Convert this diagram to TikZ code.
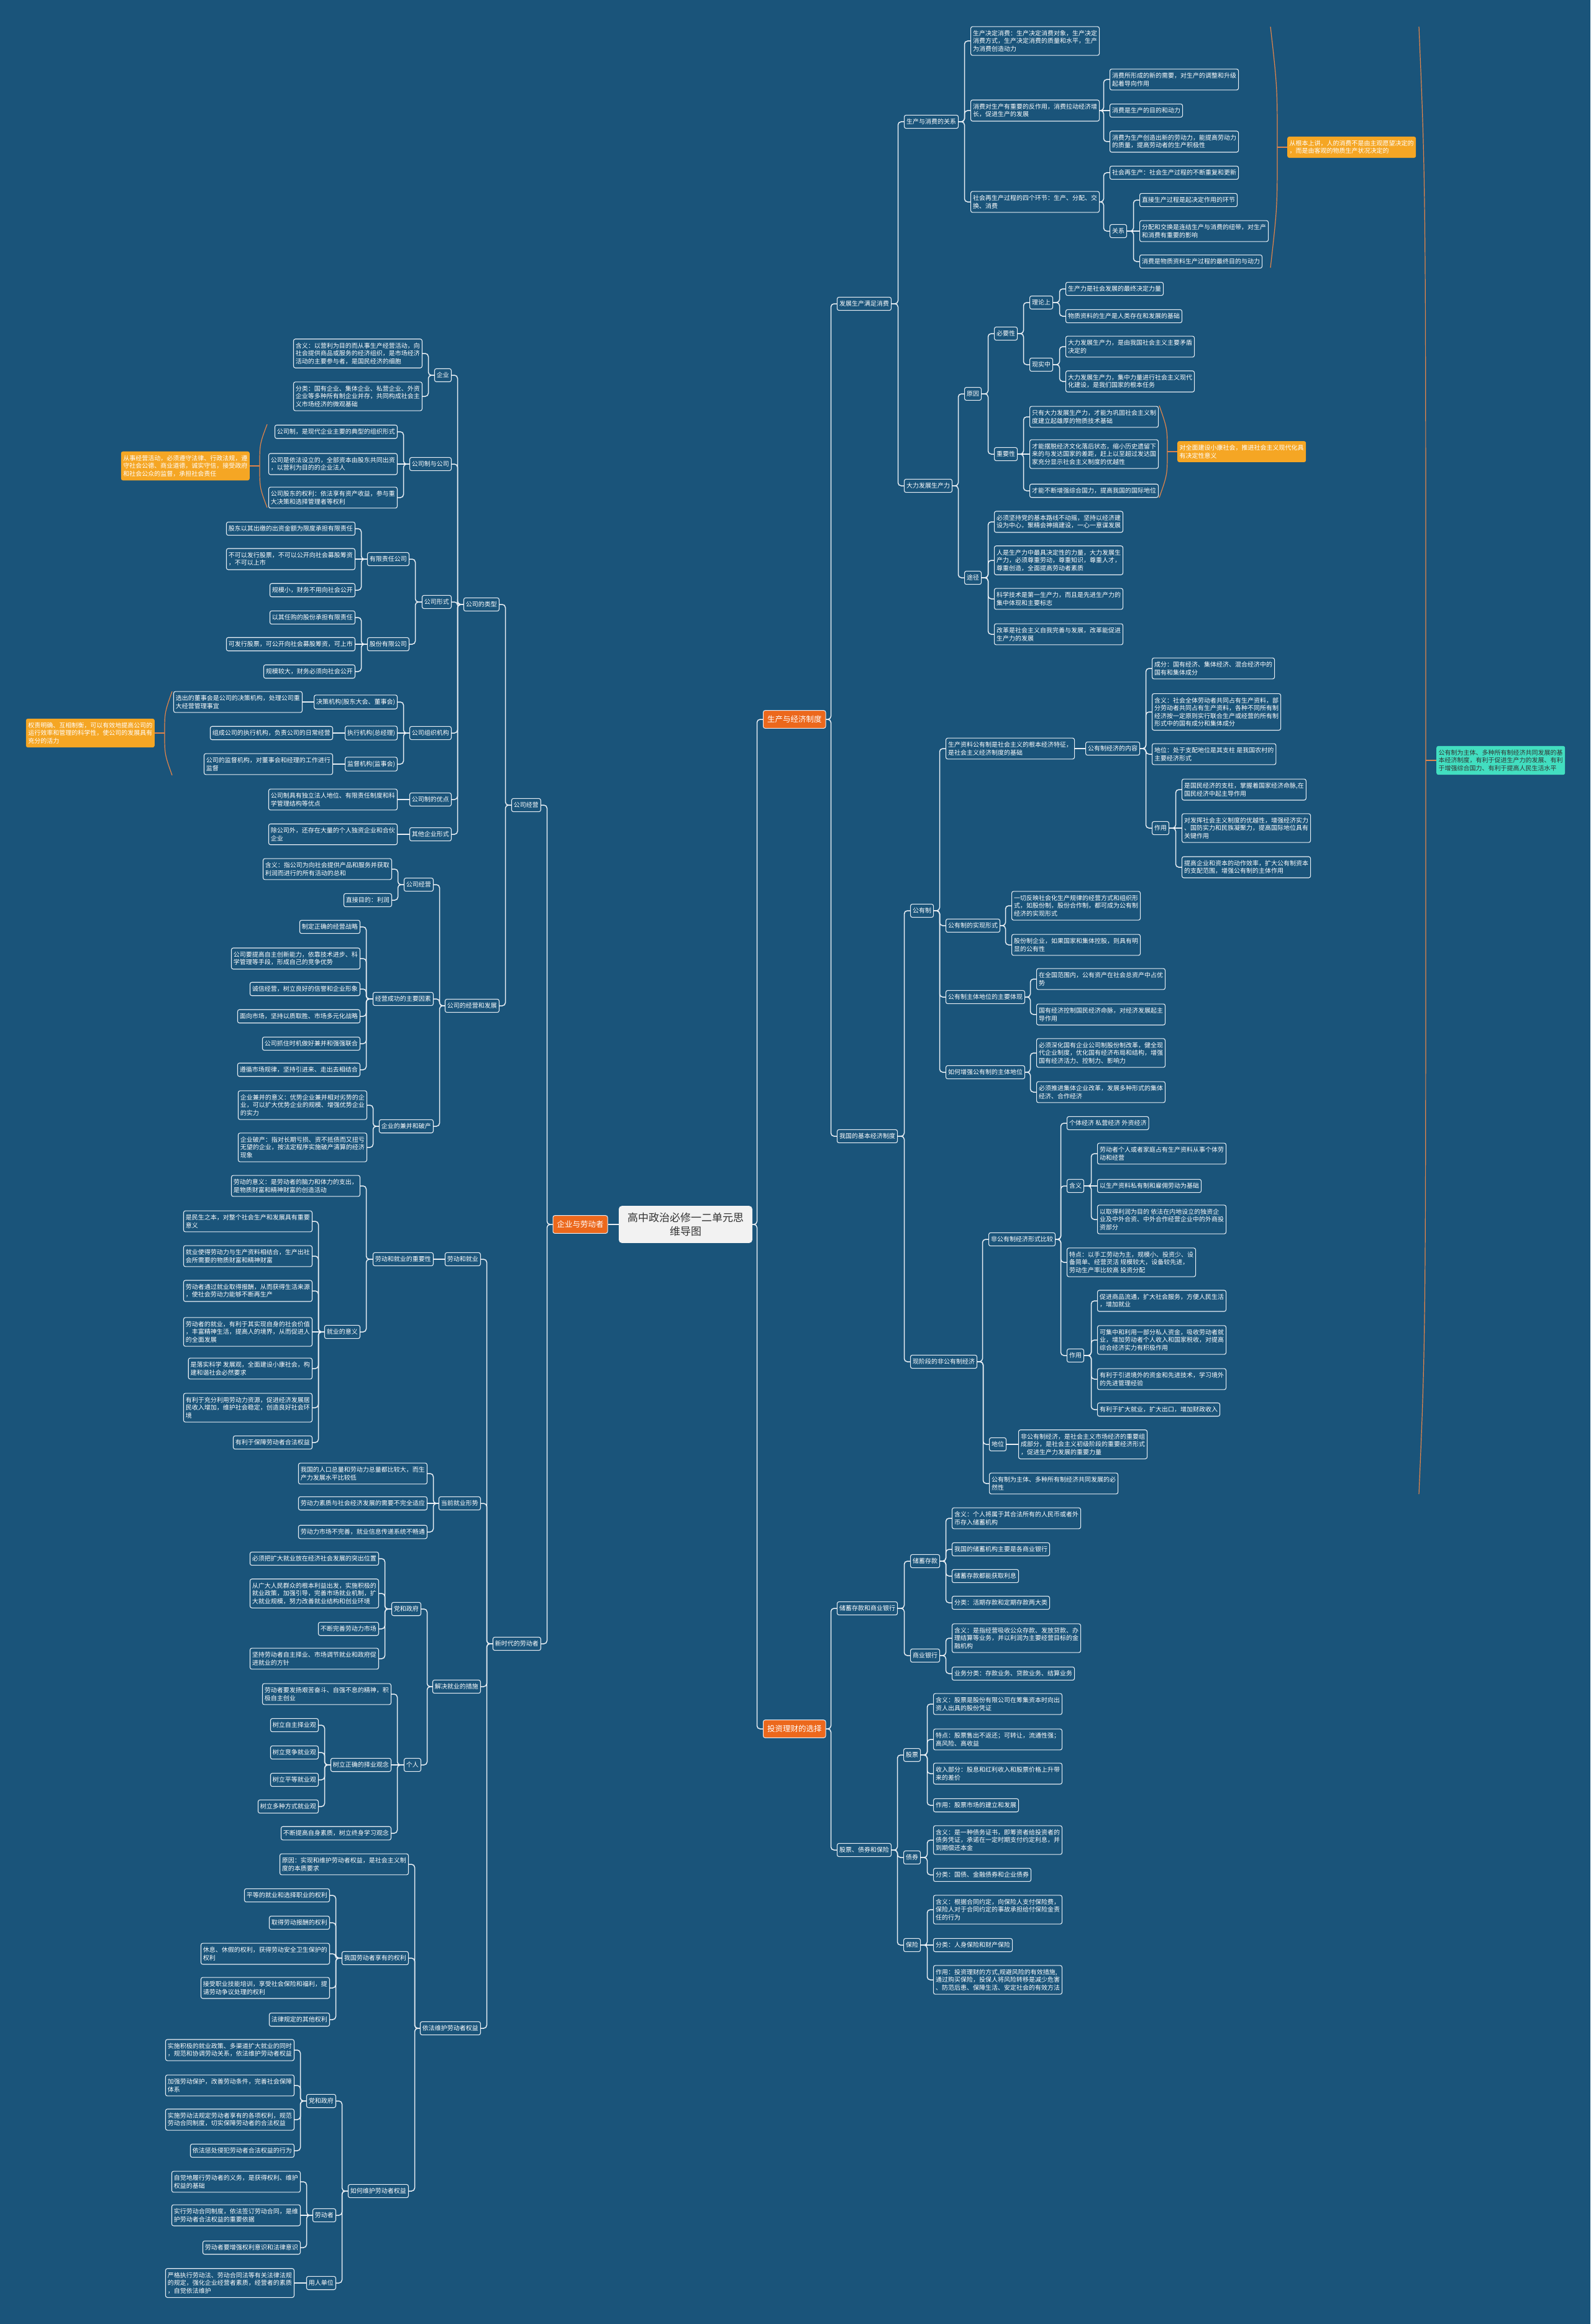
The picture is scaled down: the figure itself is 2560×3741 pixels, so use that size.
\documentclass[tikz,border=0pt]{standalone}
\usepackage{fontspec}
\setmainfont{Noto Sans CJK SC}
\definecolor{bgc}{RGB}{26,84,122}
\definecolor{lnc}{RGB}{232,238,244}
\definecolor{hubc}{RGB}{236,104,28}
\definecolor{notec}{RGB}{245,166,36}
\definecolor{tealc}{RGB}{66,222,192}
\definecolor{brcc}{RGB}{226,132,74}
\begin{document}
\begin{tikzpicture}[
		x=1pt, y=-1pt,
		bx/.style   = {draw=lnc, line width=1.1pt, rounded corners=3pt, fill=bgc, text=white,
			font=\fontsize{10}{12.5}\selectfont, inner xsep=3.5pt, inner ysep=6pt, align=left},
		hub/.style  = {draw=lnc, line width=1pt, rounded corners=3pt, fill=hubc, text=white,
			font=\fontsize{12.5}{15}\selectfont, inner xsep=6.5pt, inner ysep=8.5pt},
		root/.style = {fill=black!5, rounded corners=5pt, text=black!80,
			font=\fontsize{17}{22}\selectfont, inner xsep=14pt, inner ysep=11pt, align=center},
		note/.style = {fill=notec, rounded corners=3pt, text=white,
			font=\fontsize{10}{12.5}\selectfont, inner xsep=3.5pt, inner ysep=6pt, align=left},
		tnote/.style = {note, fill=tealc, text=black!80},
		ln/.style   = {lnc, line width=1.5pt, rounded corners=5pt},
		brc/.style  = {brcc, line width=1.2pt}
		]
		\fill[bgc] (0,0) rectangle (2560,3741);
		
		% Centre and main branches
		\node[root] (root) at (1103.5,1971) {高中政治必修一二单元思\\维导图};
		\node[hub] (qyld) at (934,1971) {企业与劳动者};
		\node[hub, anchor=west] (scjj) at (1228,1158) {生产与经济制度};
		\node[hub, anchor=west] (tzlc) at (1228,2783) {投资理财的选择};
		
		% Left: 公司经营
		\node[bx, anchor=east] (gsjy) at (871,1296) {公司经营};
		\node[bx, anchor=east] (xsd) at (871,2646) {新时代的劳动者};
		\node[bx, anchor=east] (gslx) at (804,973) {公司的类型};
		\node[bx, anchor=east] (jyfz) at (804,1619) {公司的经营和发展};
		
		\node[bx, anchor=east] (qiye) at (727,604) {企业};
		\node[bx, anchor=east] (zhgs) at (727,747) {公司制与公司};
		\node[bx, anchor=east] (gsxs) at (727,969) {公司形式};
		\node[bx, anchor=east] (zzjg) at (727,1180) {公司组织机构};
		\node[bx, anchor=east] (yudian) at (727,1287) {公司制的优点};
		\node[bx, anchor=east] (qita) at (727,1343) {其他企业形式};
		
		\node[bx, anchor=east] (qiye1) at (680,569) {含义：以营利为目的而从事生产经营活动，向\\社会提供商品或服务的经济组织，是市场经济\\活动的主要参与者，是国民经济的细胞};
		\node[bx, anchor=east] (qiye2) at (680,638) {分类：国有企业、集体企业、私营企业、外资\\企业等多种所有制企业并存，共同构成社会主\\义市场经济的微观基础};
		
		\node[bx, anchor=east] (zhgs1) at (640,695) {公司制，是现代企业主要的典型的组织形式};
		\node[bx, anchor=east] (zhgs2) at (640,747) {公司是依法设立的，全部资本由股东共同出资\\，以营利为目的的企业法人};
		\node[bx, anchor=east] (zhgs3) at (640,801) {公司股东的权利：依法享有资产收益，参与重\\大决策和选择管理者等权利};
		
		\node[bx, anchor=east] (yxgs) at (659,900) {有限责任公司};
		\node[bx, anchor=east] (gfgs) at (659,1037) {股份有限公司};
		\node[bx, anchor=east] (yxgs1) at (572,851) {股东以其出缴的出资金额为限度承担有限责任};
		\node[bx, anchor=east] (yxgs2) at (572,900) {不可以发行股票，不可以公开向社会募股筹资\\，不可以上市};
		\node[bx, anchor=east] (yxgs3) at (572,950) {规模小，财务不用向社会公开};
		\node[bx, anchor=east] (gfgs1) at (572,994) {以其任购的股份承担有限责任};
		\node[bx, anchor=east] (gfgs2) at (572,1037) {可发行股票，可公开向社会募股筹资，可上市};
		\node[bx, anchor=east] (gfgs3) at (572,1081) {规模较大，财务必须向社会公开};
		
		\node[bx, anchor=east] (jcjg) at (640,1130) {决策机构(股东大会、董事会)};
		\node[bx, anchor=east] (zxjg) at (640,1180) {执行机构(总经理)};
		\node[bx, anchor=east] (jdjg) at (640,1230) {监督机构(监事会)};
		\node[bx, anchor=east] (jcjg1) at (487,1130) {选出的董事会是公司的决策机构，处理公司重\\大经营管理事宜};
		\node[bx, anchor=east] (zxjg1) at (536,1180) {组成公司的执行机构，负责公司的日常经营};
		\node[bx, anchor=east] (jdjg1) at (536,1230) {公司的监督机构，对董事会和经理的工作进行\\监督};
		\node[bx, anchor=east] (yudian1) at (640,1287) {公司制具有独立法人地位、有限责任制度和科\\学管理结构等优点};
		\node[bx, anchor=east] (qita1) at (640,1343) {除公司外，还存在大量的个人独资企业和合伙\\企业};
		
		\node[bx, anchor=east] (gsjyb) at (698,1424) {公司经营};
		\node[bx, anchor=east] (cgys) at (698,1608) {经营成功的主要因素};
		\node[bx, anchor=east] (jbpc) at (698,1813) {企业的兼并和破产};
		\node[bx, anchor=east] (gsjyb1) at (631,1399) {含义：指公司为向社会提供产品和服务并获取\\利润而进行的所有活动的总和};
		\node[bx, anchor=east] (gsjyb2) at (631,1449) {直接目的：利润};
		\node[bx, anchor=east] (cgys1) at (580,1492) {制定正确的经营战略};
		\node[bx, anchor=east] (cgys2) at (580,1543) {公司要提高自主创新能力，依靠技术进步、科\\学管理等手段，形成自己的竞争优势};
		\node[bx, anchor=east] (cgys3) at (580,1592) {诚信经营，树立良好的信誉和企业形象};
		\node[bx, anchor=east] (cgys4) at (580,1636) {面向市场，坚持以质取胜、市场多元化战略};
		\node[bx, anchor=east] (cgys5) at (580,1680) {公司抓住时机做好兼并和强强联合};
		\node[bx, anchor=east] (cgys6) at (580,1722) {遵循市场规律，坚持引进来、走出去相结合};
		\node[bx, anchor=east] (jbpc1) at (591,1779) {企业兼并的意义：优势企业兼并相对劣势的企\\业，可以扩大优势企业的规模、增强优势企业\\的实力};
		\node[bx, anchor=east] (jbpc2) at (591,1847) {企业破产：指对长期亏损、资不抵债而又扭亏\\无望的企业，按法定程序实施破产清算的经济\\现象};
		
		% Left: 新时代的劳动者
		\node[bx, anchor=east] (ldjy) at (774,2027) {劳动和就业};
		\node[bx, anchor=east] (jyxs) at (774,2420) {当前就业形势};
		\node[bx, anchor=east] (jjcs) at (774,2715) {解决就业的措施};
		\node[bx, anchor=east] (wqy) at (774,3265) {依法维护劳动者权益};
		
		\node[bx, anchor=east] (zyx) at (698,2027) {劳动和就业的重要性};
		\node[bx, anchor=east] (ldyy) at (580,1909) {劳动的意义：是劳动者的脑力和体力的支出，\\是物质财富和精神财富的创造活动};
		\node[bx, anchor=east] (jyyy) at (580,2144) {就业的意义};
		\node[bx, anchor=east] (jyyy1) at (503,1966) {是民生之本，对整个社会生产和发展具有重要\\意义};
		\node[bx, anchor=east] (jyyy2) at (503,2022) {就业使得劳动力与生产资料相结合，生产出社\\会所需要的物质财富和精神财富};
		\node[bx, anchor=east] (jyyy3) at (503,2078) {劳动者通过就业取得报酬，从而获得生活来源\\，使社会劳动力能够不断再生产};
		\node[bx, anchor=east] (jyyy4) at (503,2144) {劳动者的就业，有利于其实现自身的社会价值\\，丰富精神生活，提高人的境界，从而促进人\\的全面发展};
		\node[bx, anchor=east] (jyyy5) at (503,2203) {是落实科学 发展观，全面建设小康社会，构\\建和谐社会必然要求};
		\node[bx, anchor=east] (jyyy6) at (503,2266) {有利于充分利用劳动力资源，促进经济发展居\\民收入增加，维护社会稳定，创造良好社会环\\境};
		\node[bx, anchor=east] (jyyy7) at (503,2322) {有利于保障劳动者合法权益};
		
		\node[bx, anchor=east] (jyxs1) at (688,2372) {我国的人口总量和劳动力总量都比较大，而生\\产力发展水平比较低};
		\node[bx, anchor=east] (jyxs2) at (688,2420) {劳动力素质与社会经济发展的需要不完全适应};
		\node[bx, anchor=east] (jyxs3) at (688,2466) {劳动力市场不完善，就业信息传递系统不畅通};
		
		\node[bx, anchor=east] (dzzf) at (678,2590) {党和政府};
		\node[bx, anchor=east] (geren) at (678,2841) {个人};
		\node[bx, anchor=east] (dzzf1) at (610,2509) {必须把扩大就业放在经济社会发展的突出位置};
		\node[bx, anchor=east] (dzzf2) at (610,2565) {从广大人民群众的根本利益出发，实施积极的\\就业政策，加强引导，完善市场就业机制，扩\\大就业规模，努力改善就业结构和创业环境};
		\node[bx, anchor=east] (dzzf3) at (610,2622) {不断完善劳动力市场};
		\node[bx, anchor=east] (dzzf4) at (610,2670) {坚持劳动者自主择业、市场调节就业和政府促\\进就业的方针};
		\node[bx, anchor=east] (geren1) at (630,2727) {劳动者要发扬艰苦奋斗、自强不息的精神，积\\极自主创业};
		\node[bx, anchor=east] (zygn) at (630,2841) {树立正确的择业观念};
		\node[bx, anchor=east] (geren3) at (630,2951) {不断提高自身素质，树立终身学习观念};
		\node[bx, anchor=east] (zygn1) at (513,2777) {树立自主择业观};
		\node[bx, anchor=east] (zygn2) at (513,2821) {树立竞争就业观};
		\node[bx, anchor=east] (zygn3) at (513,2865) {树立平等就业观};
		\node[bx, anchor=east] (zygn4) at (513,2908) {树立多种方式就业观};
		
		\node[bx, anchor=east] (wqyy) at (658,3001) {原因：实现和维护劳动者权益，是社会主义制\\度的本质要求};
		\node[bx, anchor=east] (xyql) at (658,3152) {我国劳动者享有的权利};
		\node[bx, anchor=east] (rhwh) at (658,3527) {如何维护劳动者权益};
		\node[bx, anchor=east] (xyql1) at (531,3051) {平等的就业和选择职业的权利};
		\node[bx, anchor=east] (xyql2) at (531,3095) {取得劳动报酬的权利};
		\node[bx, anchor=east] (xyql3) at (531,3145) {休息、休假的权利，获得劳动安全卫生保护的\\权利};
		\node[bx, anchor=east] (xyql4) at (531,3200) {接受职业技能培训，享受社会保险和福利，提\\请劳动争议处理的权利};
		\node[bx, anchor=east] (xyql5) at (531,3251) {法律规定的其他权利};
		
		\node[bx, anchor=east] (dzzfb) at (541,3382) {党和政府};
		\node[bx, anchor=east] (ldzh) at (541,3566) {劳动者};
		\node[bx, anchor=east] (yrdw) at (541,3675) {用人单位};
		\node[bx, anchor=east] (dzzfb1) at (474,3300) {实施积极的就业政策、多渠道扩大就业的同时\\，规范和协调劳动关系，依法维护劳动者权益};
		\node[bx, anchor=east] (dzzfb2) at (474,3357) {加强劳动保护，改善劳动条件，完善社会保障\\体系};
		\node[bx, anchor=east] (dzzfb3) at (474,3412) {实施劳动法规定劳动者享有的各项权利，规范\\劳动合同制度，切实保障劳动者的合法权益};
		\node[bx, anchor=east] (dzzfb4) at (474,3462) {依法惩处侵犯劳动者合法权益的行为};
		\node[bx, anchor=east] (ldzh1) at (484,3512) {自觉地履行劳动者的义务，是获得权利、维护\\权益的基础};
		\node[bx, anchor=east] (ldzh2) at (484,3566) {实行劳动合同制度，依法签订劳动合同，是维\\护劳动者合法权益的重要依据};
		\node[bx, anchor=east] (ldzh3) at (484,3618) {劳动者要增强权利意识和法律意识};
		\node[bx, anchor=east] (yrdw1) at (474,3675) {严格执行劳动法、劳动合同法等有关法律法规\\的规定，强化企业经营者素质，经营者的素质\\，自觉依法维护};
		
		% Right: 发展生产满足消费
		\node[bx, anchor=west] (fzsc) at (1347,489) {发展生产满足消费};
		\node[bx, anchor=west] (jbzd) at (1347,1829) {我国的基本经济制度};
		\node[bx, anchor=west] (scxf) at (1455,196) {生产与消费的关系};
		\node[bx, anchor=west] (dlfz) at (1455,782) {大力发展生产力};
		
		\node[bx, anchor=west] (scxf1) at (1562,66) {生产决定消费：生产决定消费对象，生产决定\\消费方式，生产决定消费的质量和水平，生产\\为消费创造动力};
		\node[bx, anchor=west] (fzy) at (1562,178) {消费对生产有重要的反作用，消费拉动经济增\\长，促进生产的发展};
		\node[bx, anchor=west] (hj) at (1562,325) {社会再生产过程的四个环节：生产、分配、交\\换、消费};
		\node[bx, anchor=west] (fzy1) at (1786,128) {消费所形成的新的需要，对生产的调整和升级\\起着导向作用};
		\node[bx, anchor=west] (fzy2) at (1786,178) {消费是生产的目的和动力};
		\node[bx, anchor=west] (fzy3) at (1786,228) {消费为生产创造出新的劳动力，能提高劳动力\\的质量，提高劳动者的生产积极性};
		\node[bx, anchor=west] (hj1) at (1786,278) {社会再生产：社会生产过程的不断重复和更新};
		\node[bx, anchor=west] (guanxi) at (1786,372) {关系};
		\node[bx, anchor=west] (guanxi1) at (1834,322) {直接生产过程是起决定作用的环节};
		\node[bx, anchor=west] (guanxi2) at (1834,372) {分配和交换是连结生产与消费的纽带，对生产\\和消费有重要的影响};
		\node[bx, anchor=west] (guanxi3) at (1834,421) {消费是物质资料生产过程的最终目的与动力};
		
		\node[bx, anchor=west] (yuanyin) at (1552,634) {原因};
		\node[bx, anchor=west] (tujing) at (1552,930) {途径};
		\node[bx, anchor=west] (byx) at (1600,537) {必要性};
		\node[bx, anchor=west] (zyxb) at (1600,731) {重要性};
		\node[bx, anchor=west] (lls) at (1657,487) {理论上};
		\node[bx, anchor=west] (xsz) at (1657,587) {现实中};
		\node[bx, anchor=west] (lls1) at (1715,465) {生产力是社会发展的最终决定力量};
		\node[bx, anchor=west] (lls2) at (1715,509) {物质资料的生产是人类存在和发展的基础};
		\node[bx, anchor=west] (xsz1) at (1715,558) {大力发展生产力，是由我国社会主义主要矛盾\\决定的};
		\node[bx, anchor=west] (xsz2) at (1715,614) {大力发展生产力，集中力量进行社会主义现代\\化建设，是我们国家的根本任务};
		\node[bx, anchor=west] (zyxb1) at (1657,671) {只有大力发展生产力，才能为巩固社会主义制\\度建立起雄厚的物质技术基础};
		\node[bx, anchor=west] (zyxb2) at (1657,731) {才能摆脱经济文化落后状态，缩小历史遗留下\\来的与发达国家的差距，赶上以至超过发达国\\家充分显示社会主义制度的优越性};
		\node[bx, anchor=west] (zyxb3) at (1657,790) {才能不断增强综合国力，提高我国的国际地位};
		\node[bx, anchor=west] (tujing1) at (1600,840) {必须坚持党的基本路线不动摇，坚持以经济建\\设为中心，聚精会神搞建设，一心一意谋发展};
		\node[bx, anchor=west] (tujing2) at (1600,902) {人是生产力中最具决定性的力量，大力发展生\\产力，必须尊重劳动，尊重知识，尊重人才，\\尊重创造，全面提高劳动者素质};
		\node[bx, anchor=west] (tujing3) at (1600,964) {科学技术是第一生产力，而且是先进生产力的\\集中体现和主要标志};
		\node[bx, anchor=west] (tujing4) at (1600,1021) {改革是社会主义自我完善与发展，改革能促进\\生产力的发展};
		
		% Right: 我国的基本经济制度
		\node[bx, anchor=west] (gyz) at (1465,1466) {公有制};
		\node[bx, anchor=west] (fgyz) at (1465,2192) {现阶段的非公有制经济};
		\node[bx, anchor=west] (gytz) at (1522,1205) {生产资料公有制是社会主义的根本经济特征，\\是社会主义经济制度的基础};
		\node[bx, anchor=west] (sxxs) at (1522,1490) {公有制的实现形式};
		\node[bx, anchor=west] (ztdw) at (1522,1605) {公有制主体地位的主要体现};
		\node[bx, anchor=west] (zqdw) at (1522,1726) {如何增强公有制的主体地位};
		\node[bx, anchor=west] (gynr) at (1747,1205) {公有制经济的内容};
		\node[bx, anchor=west] (gynr1) at (1854,1076) {成分：国有经济、集体经济、混合经济中的\\国有和集体成分};
		\node[bx, anchor=west] (gynr2) at (1854,1146) {含义：社会全体劳动者共同占有生产资料，部\\分劳动者共同占有生产资料，各种不同所有制\\经济按一定原则实行联合生产或经营的所有制\\形式中的国有成分和集体成分};
		\node[bx, anchor=west] (gynr3) at (1854,1214) {地位：处于支配地位是其支柱 是我国农村的\\主要经济形式};
		\node[bx, anchor=west] (gyzy) at (1854,1333) {作用};
		\node[bx, anchor=west] (gyzy1) at (1902,1271) {是国民经济的支柱，掌握着国家经济命脉,在\\国民经济中起主导作用};
		\node[bx, anchor=west] (gyzy2) at (1902,1333) {对发挥社会主义制度的优越性，增强经济实力\\、国防实力和民族凝聚力，提高国际地位具有\\关键作用};
		\node[bx, anchor=west] (gyzy3) at (1902,1396) {提高企业和资本的动作效率，扩大公有制资本\\的支配范围，增强公有制的主体作用};
		\node[bx, anchor=west] (sxxs1) at (1628,1458) {一切反映社会化生产规律的经营方式和组织形\\式，如股份制，股份合作制，都可成为公有制\\经济的实现形式};
		\node[bx, anchor=west] (sxxs2) at (1628,1521) {股份制企业，如果国家和集体控股，则具有明\\显的公有性};
		\node[bx, anchor=west] (ztdw1) at (1668,1576) {在全国范围内，公有资产在社会总资产中占优\\势};
		\node[bx, anchor=west] (ztdw2) at (1668,1633) {国有经济控制国民经济命脉，对经济发展起主\\导作用};
		\node[bx, anchor=west] (zqdw1) at (1668,1695) {必须深化国有企业公司制股份制改革，健全现\\代企业制度，优化国有经济布局和结构，增强\\国有经济活力、控制力、影响力};
		\node[bx, anchor=west] (zqdw2) at (1668,1758) {必须推进集体企业改革，发展多种形式的集体\\经济、合作经济};
		
		\node[bx, anchor=west] (xsbj) at (1591,1995) {非公有制经济形式比较};
		\node[bx, anchor=west] (diwei) at (1592,2325) {地位};
		\node[bx, anchor=west] (bry) at (1592,2388) {公有制为主体、多种所有制经济共同发展的必\\然性};
		\node[bx, anchor=west] (xsbj1) at (1717,1808) {个体经济 私营经济 外资经济};
		\node[bx, anchor=west] (hanyi) at (1717,1909) {含义};
		\node[bx, anchor=west] (tedian) at (1717,2032) {特点：以手工劳动为主，规模小、投资少、设\\备简单、经营灵活 规模较大，设备较先进，\\劳动生产率比较高 投资分配};
		\node[bx, anchor=west] (zuoyong) at (1717,2182) {作用};
		\node[bx, anchor=west] (hanyi1) at (1766,1857) {劳动者个人或者家庭占有生产资料从事个体劳\\动和经营};
		\node[bx, anchor=west] (hanyi2) at (1766,1909) {以生产资料私有制和雇佣劳动为基础};
		\node[bx, anchor=west] (hanyi3) at (1766,1963) {以取得利润为目的 依法在内地设立的独资企\\业及中外合资、中外合作经营企业中的外商投\\资部分};
		\node[bx, anchor=west] (zuoyong1) at (1766,2094) {促进商品流通，扩大社会服务，方便人民生活\\，增加就业};
		\node[bx, anchor=west] (zuoyong2) at (1766,2157) {可集中和利用一部分私人资金，吸收劳动者就\\业，增加劳动者个人收入和国家税收，对提高\\综合经济实力有积极作用};
		\node[bx, anchor=west] (zuoyong3) at (1766,2220) {有利于引进境外的资金和先进技术，学习境外\\的先进管理经验};
		\node[bx, anchor=west] (zuoyong4) at (1766,2269) {有利于扩大就业，扩大出口，增加财政收入};
		\node[bx, anchor=west] (diwei1) at (1639,2325) {非公有制经济，是社会主义市场经济的重要组\\成部分，是社会主义初级阶段的重要经济形式\\，促进生产力发展的重要力量};
		
		% Right: 投资理财的选择
		\node[bx, anchor=west] (cxyh) at (1347,2589) {储蓄存款和商业银行};
		\node[bx, anchor=west] (gzbx) at (1347,2978) {股票、债券和保险};
		\node[bx, anchor=west] (cxck) at (1465,2513) {储蓄存款};
		\node[bx, anchor=west] (syyh) at (1465,2665) {商业银行};
		\node[bx, anchor=west] (cxck1) at (1532,2444) {含义：个人将属于其合法所有的人民币或者外\\币存入储蓄机构};
		\node[bx, anchor=west] (cxck2) at (1532,2494) {我国的储蓄机构主要是各商业银行};
		\node[bx, anchor=west] (cxck3) at (1532,2537) {储蓄存款都能获取利息};
		\node[bx, anchor=west] (cxck4) at (1532,2580) {分类：活期存款和定期存款两大类};
		\node[bx, anchor=west] (syyh1) at (1532,2637) {含义：是指经营吸收公众存款、发放贷款、办\\理结算等业务，并以利润为主要经营目标的金\\融机构};
		\node[bx, anchor=west] (syyh2) at (1532,2694) {业务分类：存款业务、贷款业务、结算业务};
		
		\node[bx, anchor=west] (gupiao) at (1454,2825) {股票};
		\node[bx, anchor=west] (zhaiquan) at (1454,2990) {债券};
		\node[bx, anchor=west] (baoxian) at (1454,3131) {保险};
		\node[bx, anchor=west] (gupiao1) at (1502,2743) {含义：股票是股份有限公司在筹集资本时向出\\资人出具的股份凭证};
		\node[bx, anchor=west] (gupiao2) at (1502,2800) {特点：股票售出不返还；可转让，流通性强；\\高风险、高收益};
		\node[bx, anchor=west] (gupiao3) at (1502,2855) {收入部分：股息和红利收入和股票价格上升带\\来的差价};
		\node[bx, anchor=west] (gupiao4) at (1502,2906) {作用：股票市场的建立和发展};
		\node[bx, anchor=west] (zhaiquan1) at (1502,2962) {含义：是一种债务证书，即筹资者给投资者的\\债务凭证，承诺在一定时期支付约定利息，并\\到期偿还本金};
		\node[bx, anchor=west] (zhaiquan2) at (1502,3018) {分类：国债、金融债券和企业债券};
		\node[bx, anchor=west] (baoxian1) at (1502,3074) {含义：根据合同约定，向保险人支付保险费，\\保险人对于合同约定的事故承担给付保险金责\\任的行为};
		\node[bx, anchor=west] (baoxian2) at (1502,3131) {分类：人身保险和财产保险};
		\node[bx, anchor=west] (baoxian3) at (1502,3187) {作用：投资理财的方式,规避风险的有效措施,\\通过购买保险，投保人将风险转移是减少危害\\、防范后患、保障生活、安定社会的有效方法};
		
		% Summary notes
		\node[note, anchor=east] (noteA) at (402,750) {从事经营活动，必须遵守法律、行政法规，遵\\守社会公德、商业道德，诚实守信，接受政府\\和社会公众的监督，承担社会责任};
		\node[note, anchor=east] (noteB) at (249,1180) {权责明确、互相制衡，可以有效地提高公司的\\运行效率和管理的科学性，使公司的发展具有\\充分的活力};
		\node[note, anchor=west] (noteC) at (2072,237) {从根本上讲，人的消费不是由主观愿望决定的\\，而是由客观的物质生产状况决定的};
		\node[note, anchor=west] (noteD) at (1895,727) {对全面建设小康社会，推进社会主义现代化具\\有决定性意义};
		\node[tnote, anchor=west] (noteE) at (2312,1224) {公有制为主体、多种所有制经济共同发展的基\\本经济制度，有利于促进生产力的发展、有利\\于增强综合国力、有利于提高人民生活水平};
		
		\coordinate (brA) at (418,750);
		\coordinate (brB) at (265,1180);
		\coordinate (brC) at (2056,237);
		\coordinate (brD) at (1879,727);
		\coordinate (brE) at (2295,1224);
		\draw[brc] (430,683) .. controls (418,715) .. (brA) .. controls (418,785) .. (430,817);
		\draw[brc] (277,1113) .. controls (265,1147) .. (brB) .. controls (265,1214) .. (277,1248);
		\draw[brc] (2045,43) .. controls (2056,140) .. (brC) .. controls (2056,334) .. (2045,431);
		\draw[brc] (1866,653) .. controls (1879,690) .. (brD) .. controls (1879,764) .. (1866,801);
		\draw[brc] (2284,43) .. controls (2295,300) .. (brE) .. controls (2295,2150) .. (2284,2405);
		\draw[brc] (brA) -- (noteA.east);
		\draw[brc] (brB) -- (noteB.east);
		\draw[brc] (brC) -- (noteC.west);
		\draw[brc] (brD) -- (noteD.west);
		\draw[brc] (brE) -- (noteE.west);
		
		% Connectors: straight ones
		\draw[ln] (root.west) -- (qyld.east);
		\foreach \p/\c in {zzjg/zxjg, yxgs/yxgs2, gfgs/gfgs2, zhgs/zhgs2, jcjg/jcjg1, zxjg/zxjg1,
			jdjg/jdjg1, yudian/yudian1, qita/qita1, ldjy/zyx, jyyy/jyyy4, jyxs/jyxs2, geren/zygn,
			ldzh/ldzh2, yrdw/yrdw1}
		\draw[ln] (\p.west) -- (\c.east);
		\foreach \p/\c in {fzy/fzy2, guanxi/guanxi2, zyxb/zyxb2, gytz/gynr, gyzy/gyzy2,
			hanyi/hanyi2, diwei/diwei1, baoxian/baoxian2}
		\draw[ln] (\p.east) -- (\c.west);
		
		% Connectors: left brackets
		\foreach \p/\c in {qyld/gsjy, qyld/xsd, gsjy/gslx, gsjy/jyfz,
			gslx/qiye, gslx/zhgs, gslx/gsxs, gslx/zzjg, gslx/yudian, gslx/qita,
			qiye/qiye1, qiye/qiye2, zhgs/zhgs1, zhgs/zhgs3, gsxs/yxgs, gsxs/gfgs,
			yxgs/yxgs1, yxgs/yxgs3, gfgs/gfgs1, gfgs/gfgs3, zzjg/jcjg, zzjg/jdjg,
			jyfz/gsjyb, jyfz/cgys, jyfz/jbpc, gsjyb/gsjyb1, gsjyb/gsjyb2,
			cgys/cgys1, cgys/cgys2, cgys/cgys3, cgys/cgys4, cgys/cgys5, cgys/cgys6,
			jbpc/jbpc1, jbpc/jbpc2,
			xsd/ldjy, xsd/jyxs, xsd/jjcs, xsd/wqy, zyx/ldyy, zyx/jyyy,
			jyyy/jyyy1, jyyy/jyyy2, jyyy/jyyy3, jyyy/jyyy5, jyyy/jyyy6, jyyy/jyyy7,
			jyxs/jyxs1, jyxs/jyxs3, jjcs/dzzf, jjcs/geren,
			dzzf/dzzf1, dzzf/dzzf2, dzzf/dzzf3, dzzf/dzzf4, geren/geren1, geren/geren3,
			zygn/zygn1, zygn/zygn2, zygn/zygn3, zygn/zygn4,
			wqy/wqyy, wqy/xyql, wqy/rhwh,
			xyql/xyql1, xyql/xyql2, xyql/xyql3, xyql/xyql4, xyql/xyql5,
			rhwh/dzzfb, rhwh/ldzh, rhwh/yrdw,
			dzzfb/dzzfb1, dzzfb/dzzfb2, dzzfb/dzzfb3, dzzfb/dzzfb4, ldzh/ldzh1, ldzh/ldzh3}
		\draw[ln] (\p.west) -| ([xshift=9.5pt]\c.east) -- (\c.east);
		
		% Connectors: right brackets
		\foreach \p/\c in {root/scjj, root/tzlc, scjj/fzsc, scjj/jbzd, fzsc/scxf, fzsc/dlfz,
			scxf/scxf1, scxf/fzy, scxf/hj, fzy/fzy1, fzy/fzy3, hj/hj1, hj/guanxi,
			guanxi/guanxi1, guanxi/guanxi3, dlfz/yuanyin, dlfz/tujing,
			yuanyin/byx, yuanyin/zyxb, byx/lls, byx/xsz,
			lls/lls1, lls/lls2, xsz/xsz1, xsz/xsz2, zyxb/zyxb1, zyxb/zyxb3,
			tujing/tujing1, tujing/tujing2, tujing/tujing3, tujing/tujing4,
			jbzd/gyz, jbzd/fgyz, gyz/gytz, gyz/sxxs, gyz/ztdw, gyz/zqdw,
			gynr/gynr1, gynr/gynr2, gynr/gynr3, gynr/gyzy, gyzy/gyzy1, gyzy/gyzy3,
			sxxs/sxxs1, sxxs/sxxs2, ztdw/ztdw1, ztdw/ztdw2, zqdw/zqdw1, zqdw/zqdw2,
			fgyz/xsbj, fgyz/diwei, fgyz/bry,
			xsbj/xsbj1, xsbj/hanyi, xsbj/tedian, xsbj/zuoyong,
			hanyi/hanyi1, hanyi/hanyi3,
			zuoyong/zuoyong1, zuoyong/zuoyong2, zuoyong/zuoyong3, zuoyong/zuoyong4,
			tzlc/cxyh, tzlc/gzbx, cxyh/cxck, cxyh/syyh,
			cxck/cxck1, cxck/cxck2, cxck/cxck3, cxck/cxck4, syyh/syyh1, syyh/syyh2,
			gzbx/gupiao, gzbx/zhaiquan, gzbx/baoxian,
			gupiao/gupiao1, gupiao/gupiao2, gupiao/gupiao3, gupiao/gupiao4,
			zhaiquan/zhaiquan1, zhaiquan/zhaiquan2, baoxian/baoxian1, baoxian/baoxian3}
		\draw[ln] (\p.east) -| ([xshift=-9.5pt]\c.west) -- (\c.west);
	\end{tikzpicture}
\end{document}
